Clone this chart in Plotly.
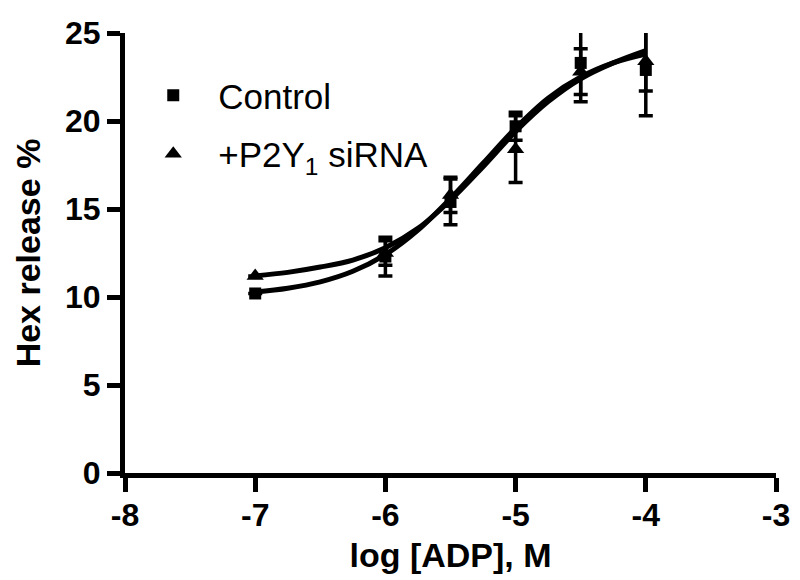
import plotly.graph_objects as go

# measured points (log M)
dose = [-7, -6, -5.5, -5, -4.5, -4]
ctrl = [10.2, 12.3, 15.4, 19.7, 23.3, 22.9]
ctrl_err = [0, 1.1, 1.3, 0.8, 2.2, 2.6]
sirna = [11.2, 12.5, 15.8, 18.4, 22.8, 23.4]
sirna_err = [0, 0.7, 1.0, 1.9, 1.3, 1.7]

# fitted curves
fit_x = [-7, -6.75, -6.5, -6.25, -6, -5.75, -5.5, -5.25, -5, -4.75, -4.5, -4.25, -4]
fit_ctrl = [10.28, 10.5, 10.86, 11.46, 12.41, 13.8, 15.6, 17.6, 19.6, 21.3, 22.5, 23.3, 23.8]
fit_sirna = [11.2, 11.4, 11.7, 12.1, 12.8, 13.9, 15.5, 17.4, 19.4, 21.1, 22.4, 23.3, 24.0]

x_ticks = [-8, -7, -6, -5, -4, -3]
x_labels = ['-8', '-7', '-6', '-5', '-4', '-3']
y_ticks = [0, 5, 10, 15, 20, 25]

FONT = "Liberation Sans, Arial, sans-serif"

fig = go.Figure()

for y in (fit_ctrl, fit_sirna):
    fig.add_trace(go.Scatter(x=fit_x, y=y, mode='lines', line_shape='spline',
                             line=dict(color='black', width=5),
                             showlegend=False, hoverinfo='skip'))

fig.add_trace(go.Scatter(
    x=dose, y=ctrl, mode='markers', name='Control', legendgroup='a',
    marker=dict(symbol='square', size=12, color='black'),
    error_y=dict(type='data', array=ctrl_err, color='black',
                 thickness=3.5, width=7)))
fig.add_trace(go.Scatter(
    x=dose, y=sirna, mode='markers', name='+P2Y<sub>1</sub> siRNA',
    legendgroup='b',
    marker=dict(symbol='triangle-up', size=15, color='black'),
    error_y=dict(type='data', array=sirna_err, color='black',
                 thickness=3.5, width=7)))

axis_common = dict(showgrid=False, zeroline=False, showline=True,
                   linecolor='black', linewidth=5, ticks='outside',
                   tickwidth=5, tickcolor='black', automargin=False,
                   tickfont=dict(family=FONT, size=32, color='black',
                                 weight='bold'))

fig.update_xaxes(range=[-8, -3], tickvals=x_ticks, ticktext=x_labels,
                 ticklen=14, ticklabelstandoff=-4,
                 title=dict(text='log [ADP], M', standoff=12,
                            font=dict(family=FONT, size=34, color='black',
                                      weight='bold')),
                 **axis_common)
fig.update_yaxes(range=[0, 25], tickvals=y_ticks,
                 ticklen=13,
                 title=dict(text='Hex release %', standoff=16,
                            font=dict(family=FONT, size=34, color='black',
                                      weight='bold')),
                 **axis_common)

fig.update_layout(
    width=800, height=580,
    margin=dict(l=117, r=32, t=25, b=115),
    plot_bgcolor='white', paper_bgcolor='white',
    legend=dict(x=0.005, y=0.925, xanchor='left', yanchor='top',
                bgcolor='rgba(0,0,0,0)', tracegroupgap=10, itemwidth=80,
                font=dict(family=FONT, size=35, color='black')),
)

fig.write_html("out.html")
